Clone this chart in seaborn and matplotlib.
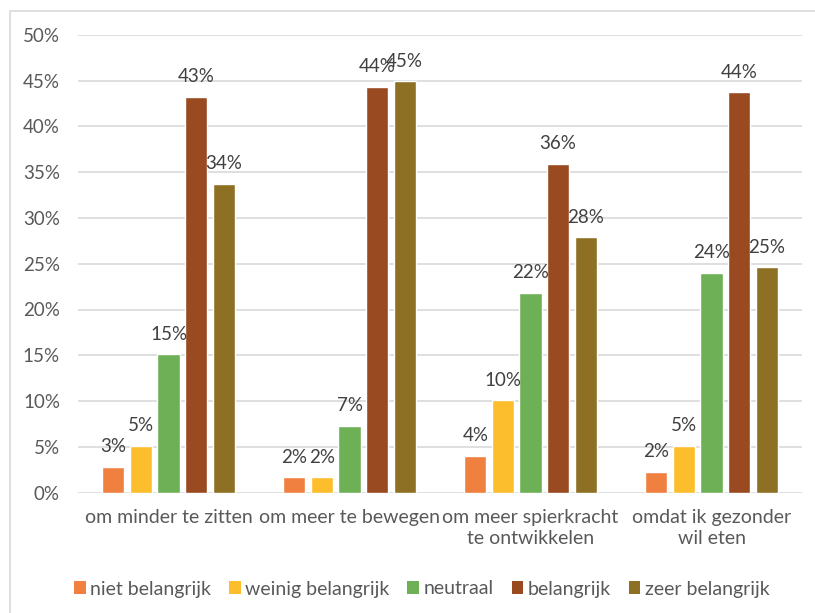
import matplotlib
matplotlib.use("Agg")
import matplotlib.pyplot as plt
from matplotlib.ticker import PercentFormatter, MultipleLocator
from matplotlib.patches import Rectangle, Patch
import seaborn as sns
import pandas as pd

categories = ["om minder te zitten", "om meer te bewegen",
              "om meer spierkracht\nte ontwikkelen", "omdat ik gezonder\nwil eten"]
levels = ["niet belangrijk", "weinig belangrijk", "neutraal", "belangrijk", "zeer belangrijk"]
niet_belangrijk = [0.028, 0.017, 0.040, 0.023]
weinig_belangrijk = [0.051, 0.017, 0.101, 0.051]
neutraal = [0.151, 0.073, 0.218, 0.240]
belangrijk = [0.432, 0.443, 0.359, 0.437]
zeer_belangrijk = [0.337, 0.449, 0.279, 0.246]
colors = ["#F08040", "#FCBE2C", "#6EB056", "#994A21", "#8E7025"]

series = [niet_belangrijk, weinig_belangrijk, neutraal, belangrijk, zeer_belangrijk]
rows = []
for lvl, vals in zip(levels, series):
    for c, v in zip(categories, vals):
        rows.append({"cat": c, "level": lvl, "val": v})
df = pd.DataFrame(rows)

sns.set_theme(style="white")
plt.rcParams["font.family"] = ["Lato", "DejaVu Sans"]

fig = plt.figure(figsize=(8.15, 6.13), dpi=100)
ax = fig.add_axes([78/815, 1-492.7/613, (802-78)/815, (492.7-34.7)/613])

sns.barplot(data=df, x="cat", y="val", hue="level", order=categories, hue_order=levels,
            palette=colors, width=0.76, gap=0.2, edgecolor="white", linewidth=1,
            errorbar=None, ax=ax, saturation=1)

for cont in ax.containers:
    for bar in cont:
        h = bar.get_height()
        ax.annotate(f"{h*100:.0f}%", (bar.get_x() + bar.get_width()/2, h),
                    xytext=(0, 10.5), textcoords="offset points",
                    ha="center", va="baseline", fontsize=13.5, color="#404040")

ax.set_ylim(0, 0.5)
ax.yaxis.set_major_locator(MultipleLocator(0.05))
ax.yaxis.set_major_formatter(PercentFormatter(1.0, decimals=0))
ax.set_xlim(-0.5, 3.5)
ax.grid(axis="y", color="#D9D9D9", linewidth=1.2)
ax.set_axisbelow(True)
for s in ax.spines.values():
    s.set_visible(False)
ax.tick_params(axis="y", length=0, labelsize=13.5, labelcolor="#595959", pad=13)
ax.tick_params(axis="x", length=0, labelsize=14, labelcolor="#595959", pad=12)
for t in ax.get_xticklabels():
    t.set_linespacing(1.25)
ax.set_xlabel("")
ax.set_ylabel("")

if ax.get_legend() is not None:
    ax.get_legend().remove()
handles = [Patch(facecolor=c, edgecolor="none") for c in colors]
fig.legend(handles, levels, loc="center", bbox_to_anchor=(422/815, 1-589/613), ncol=5,
           frameon=False, fontsize=14, labelcolor="#595959",
           handlelength=0.6, handleheight=0.6, handletextpad=0.25, columnspacing=0.9)

fig.add_artist(Rectangle((10/815, -0.05), 1.0, 1-11/613+0.05, transform=fig.transFigure,
                         fill=False, edgecolor="#D9D9D9", linewidth=1.2))

fig.savefig("out.png", dpi=100)
